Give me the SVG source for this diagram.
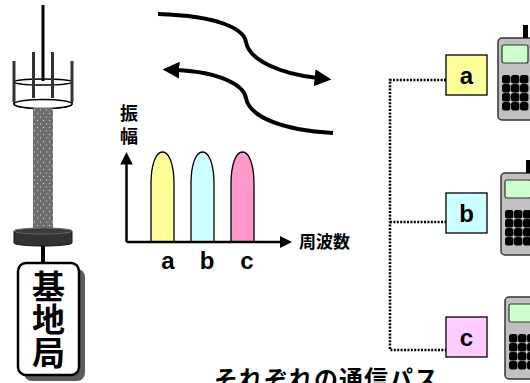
<svg xmlns="http://www.w3.org/2000/svg" width="530" height="383" viewBox="0 0 530 383">
  <style>
    .jp { font-family: "Noto Sans CJK JP", "Liberation Sans", sans-serif; font-weight: bold; fill: #000; }
    .lat { font-family: "Liberation Sans", Arial, sans-serif; font-weight: bold; fill: #000; }
    .wave { fill: none; stroke: #000; stroke-width: 4; }
    .dot { fill: none; stroke: #000; stroke-width: 2.5; stroke-dasharray: 2 1.4; }
    .axis { fill: none; stroke: #000; stroke-width: 2.5; }
    .bell { stroke: #000; stroke-width: 1.3; }
    .chan { stroke: #000; stroke-width: 1.3; }
    .body { fill: #c0c0c0; stroke: #333; stroke-width: 1.5; }
    .screen { fill: #ccffcc; stroke: #333; stroke-width: 1.2; }
    .key { fill: #000; }
  </style>
  <defs>
    <pattern id="speckle" width="6" height="7" patternUnits="userSpaceOnUse">
      <rect width="6" height="7" fill="#6e6e6e"/>
      <rect x="1" y="1" width="1" height="1" fill="#e0e0e0"/>
      <rect x="4" y="4.5" width="1" height="1" fill="#e0e0e0"/>
    </pattern>
    <marker id="head" viewBox="0 0 10 10" refX="2" refY="5" markerWidth="4.2" markerHeight="4.2" orient="auto" markerUnits="strokeWidth">
      <path d="M0,0 L10,5 L0,10 Z" fill="#000"/>
    </marker>
    <marker id="axhead" viewBox="0 0 10 10" refX="2" refY="5" markerWidth="5" markerHeight="5" orient="auto" markerUnits="strokeWidth">
      <path d="M0,0 L10,5 L0,10 Z" fill="#000"/>
    </marker>
    <!-- rounded-top pulse of one channel, 23 wide, 90 tall -->
    <path id="bell" d="M0,90 L0,32 C0,12 5,0 11.5,0 C18,0 23,12 23,32 L23,90 Z"/>
    <g id="phone">
      <rect class="body" x="0" y="0" width="36" height="82" rx="4"/>
      <rect x="25" y="-13" width="5" height="13" fill="#000"/>
      <rect class="screen" x="4" y="7" width="26" height="18" rx="2"/>
      <g class="key">
        <rect x="4" y="37" width="8.4" height="8.6" rx="2.5"/>
        <rect x="13" y="37" width="8.4" height="8.6" rx="2.5"/>
        <rect x="22" y="37" width="8.4" height="8.6" rx="2.5"/>
        <rect x="4" y="46" width="8.4" height="8.6" rx="2.5"/>
        <rect x="13" y="46" width="8.4" height="8.6" rx="2.5"/>
        <rect x="22" y="46" width="8.4" height="8.6" rx="2.5"/>
        <rect x="4" y="55" width="8.4" height="8.6" rx="2.5"/>
        <rect x="13" y="55" width="8.4" height="8.6" rx="2.5"/>
        <rect x="22" y="55" width="8.4" height="8.6" rx="2.5"/>
        <rect x="4" y="64" width="8.4" height="8.6" rx="2.5"/>
        <rect x="13" y="64" width="8.4" height="8.6" rx="2.5"/>
        <rect x="22" y="64" width="8.4" height="8.6" rx="2.5"/>
      </g>
    </g>
  </defs>

  <rect width="530" height="383" fill="#fff"/>

  <!-- base station tower -->
  <g id="tower">
    <line x1="43" y1="5" x2="43" y2="81" stroke="#000" stroke-width="3"/>
    <path d="M14,82 L14,104 A29,4.5 0 0 0 72,104 L72,82" fill="#fff" stroke="#000" stroke-width="1.5"/>
    <ellipse cx="43" cy="82" rx="29" ry="3" fill="none" stroke="#000" stroke-width="1.5"/>
    <ellipse cx="43" cy="104" rx="29" ry="4.5" fill="#fff" stroke="#000" stroke-width="1.5"/>
    <line x1="14" y1="61" x2="14" y2="102" stroke="#333" stroke-width="3"/>
    <line x1="72" y1="61" x2="72" y2="102" stroke="#333" stroke-width="3"/>
    <line x1="33.5" y1="52" x2="33.5" y2="98" stroke="#333" stroke-width="3"/>
    <line x1="52.5" y1="52" x2="52.5" y2="98" stroke="#333" stroke-width="3"/>
    <rect x="33" y="108" width="20" height="120" fill="url(#speckle)"/>
    <path d="M14,231 L14,243 A29,3 0 0 0 72,243 L72,231 Z" fill="#333" stroke="#111" stroke-width="1"/>
    <ellipse cx="43" cy="231" rx="29" ry="3" fill="#3a3a3a" stroke="#666" stroke-width="1"/>
    <line x1="43" y1="246" x2="43" y2="264" stroke="#000" stroke-width="4"/>
  </g>

  <g id="station-label">
    <rect x="24" y="269" width="61" height="112" rx="8" fill="#5f5a55"/>
    <rect x="18" y="263" width="61" height="112" rx="8" fill="#fff" stroke="#000" stroke-width="2.5"/>
    <text class="jp" x="48.5" y="270" font-size="33" writing-mode="tb">基地局</text>
  </g>

  <!-- radio waves in both directions -->
  <g id="waves">
    <path class="wave" d="M158,14 C222,16 244,30 246,42 C249,60 280,74 318,78" marker-end="url(#head)"/>
    <path class="wave" d="M333,133 C280,130 249,116 246,98 C244,86 222,72 176,70" marker-end="url(#head)"/>
  </g>

  <!-- frequency spectrum -->
  <g id="spectrum">
    <use href="#bell" x="151" y="152" class="bell" fill="#ffff99"/>
    <use href="#bell" x="191" y="152" class="bell" fill="#ccffff"/>
    <use href="#bell" x="231" y="152" class="bell" fill="#ff99cc"/>
    <path class="axis" d="M126.5,242 L126.5,162" marker-end="url(#axhead)"/>
    <path class="axis" d="M126.5,242 L282,242" marker-end="url(#axhead)"/>
    <text class="jp" x="129" y="104" font-size="18" letter-spacing="5" writing-mode="tb">振幅</text>
    <text class="jp" x="299" y="248" font-size="17">周波数</text>
    <text class="lat" x="168" y="269" font-size="24" text-anchor="middle">a</text>
    <text class="lat" x="207" y="269" font-size="24" text-anchor="middle">b</text>
    <text class="lat" x="247" y="269" font-size="24" text-anchor="middle">c</text>
  </g>

  <!-- dotted links to each channel -->
  <g id="links">
    <path class="dot" d="M446,80 L390,80 L390,350 L446,350"/>
    <path class="dot" d="M390,222 L446,222"/>
  </g>

  <g id="chan-a">
    <rect class="chan" x="446" y="55" width="41" height="40" fill="#ffff99"/>
    <text class="lat" x="466.5" y="84" font-size="24" text-anchor="middle">a</text>
  </g>
  <g id="chan-b">
    <rect class="chan" x="446" y="193" width="41" height="40" fill="#ccffff"/>
    <text class="lat" x="466.5" y="222" font-size="24" text-anchor="middle">b</text>
  </g>
  <g id="chan-c">
    <rect class="chan" x="446" y="317" width="41" height="40" fill="#ffccff"/>
    <text class="lat" x="466.5" y="346" font-size="24" text-anchor="middle">c</text>
  </g>

  <g id="phone-a"><use href="#phone" transform="translate(498,38)"/></g>
  <g id="phone-b"><use href="#phone" transform="translate(501,173)"/></g>
  <g id="phone-c"><use href="#phone" transform="translate(505,297)"/></g>

  <!-- caption runs past the lower edge of the canvas -->
  <text class="jp" x="214" y="388" font-size="24" letter-spacing="1">それぞれの通信パス</text>
</svg>
